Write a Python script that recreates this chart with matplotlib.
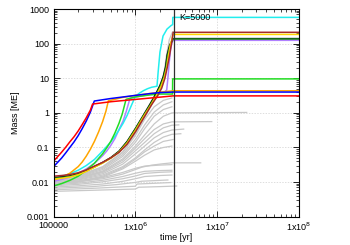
import matplotlib
matplotlib.use("Agg")
import matplotlib.pyplot as plt
import matplotlib.ticker as mticker

plt.rcParams['font.family'] = ['Liberation Sans', 'DejaVu Sans']

# coloured planets: time [yr], mass [ME]
red_t = [1e5, 1.12e5, 1.26e5, 1.41e5, 1.58e5, 1.78e5, 2.0e5, 2.24e5, 2.51e5, 2.82e5, 3.0e5,
         5e5, 1e6, 2e6, 2.9e6, 1e8]
red_m = [0.040, 0.054, 0.074, 0.102, 0.145, 0.204, 0.30, 0.46, 0.72, 1.2, 1.8,
         2.1, 2.45, 2.85, 3.1, 3.1]

blue_t = [1e5, 1.12e5, 1.26e5, 1.41e5, 1.58e5, 1.78e5, 2.0e5, 2.24e5, 2.51e5, 2.82e5, 3.15e5,
          5e5, 1e6, 1.5e6, 2e6, 2.9e6, 1e8]
blue_m = [0.028, 0.037, 0.050, 0.070, 0.100, 0.145, 0.22, 0.35, 0.58, 1.05, 2.2,
          2.6, 3.2, 3.6, 3.85, 4.0, 4.0]

orange_t = [1e5, 1.26e5, 1.58e5, 2.0e5, 2.24e5, 2.51e5, 2.82e5, 3.16e5, 3.55e5, 3.98e5, 4.37e5, 4.68e5,
            7e5, 1e6, 2e6, 2.9e6, 1e8]
orange_m = [0.0115, 0.0138, 0.018, 0.028, 0.038, 0.056, 0.089, 0.15, 0.28, 0.56, 1.12, 2.23,
            2.8, 3.2, 3.95, 4.35, 4.35]

green_t = [1e5, 1.26e5, 1.58e5, 2.0e5, 2.51e5, 3.16e5, 3.98e5, 4.47e5, 5.01e5, 5.62e5, 6.31e5, 6.92e5, 7.7e5,
           1e6, 1.5e6, 2.0e6, 2.85e6, 2.86e6, 1e8]
green_m = [0.0077, 0.0091, 0.0112, 0.0148, 0.022, 0.035, 0.066, 0.098, 0.15, 0.26, 0.50, 0.93, 2.46,
           2.9, 3.3, 3.5, 3.5, 9.6, 9.6]

violet_t = [1e5, 1.26e5, 1.58e5, 2.0e5, 2.51e5, 3.16e5, 3.98e5, 4.47e5, 5.01e5, 5.62e5, 6.31e5, 7.08e5,
            7.76e5, 8.6e5, 1.2e6, 1.6e6, 2.0e6, 2.3e6, 2.42e6, 2.5e6, 2.6e6, 2.7e6, 2.8e6, 2.9e6, 1e8]
violet_m = [0.0105, 0.012, 0.0141, 0.0178, 0.024, 0.035, 0.058, 0.079, 0.115, 0.18, 0.33, 0.58,
            1.12, 2.63, 3.1, 3.5, 3.9, 4.1, 4.6, 10, 30, 70, 105, 125, 125]

cyan_t = [1e5, 1.26e5, 1.58e5, 2.0e5, 2.51e5, 3.16e5, 3.98e5, 5.01e5, 5.62e5, 6.31e5, 7.08e5, 7.94e5,
          8.91e5, 1.0e6, 1.12e6, 1.26e6, 1.41e6, 1.58e6, 1.84e6, 1.9e6, 2.0e6, 2.18e6, 2.44e6, 2.73e6,
          2.86e6, 2.87e6, 1e8]
cyan_m = [0.0125, 0.0145, 0.0174, 0.022, 0.03, 0.045, 0.079, 0.145, 0.21, 0.32, 0.50, 0.85,
          1.6, 3.0, 3.7, 4.4, 5.0, 5.5, 5.9, 15, 57, 166, 264, 333,
          356, 575, 575]

black_t = [1e5, 1.26e5, 1.58e5, 2.0e5, 2.51e5, 3.16e5, 3.98e5, 5.01e5, 6.31e5, 7.94e5, 1.0e6, 1.26e6,
           1.51e6, 1.74e6, 2.0e6, 2.19e6, 2.34e6, 2.45e6, 2.63e6, 2.9e6, 1e8]
black_m = [0.0135, 0.0141, 0.0151, 0.0174, 0.0214, 0.028, 0.037, 0.051, 0.078, 0.15, 0.35, 0.87,
           1.78, 3.2, 6.2, 11, 21, 47, 91, 140, 140]

dkgreen_t = [1e5, 1.26e5, 1.58e5, 2.0e5, 2.51e5, 3.16e5, 3.98e5, 5.01e5, 6.31e5, 7.94e5, 1.0e6, 1.26e6,
             1.52e6, 1.76e6, 2.02e6, 2.21e6, 2.36e6, 2.47e6, 2.65e6, 2.9e6, 1e8]
dkgreen_m = [0.013, 0.0136, 0.0146, 0.0169, 0.0208, 0.0272, 0.036, 0.05, 0.076, 0.145, 0.34, 0.84,
             1.72, 3.1, 6.0, 10.5, 20, 45, 88, 137, 137]

yellow_t = [1e5, 1.26e5, 1.58e5, 2.0e5, 2.51e5, 3.16e5, 3.98e5, 5.01e5, 6.31e5, 7.94e5, 1.0e6, 1.26e6,
            1.55e6, 1.8e6, 2.06e6, 2.26e6, 2.42e6, 2.54e6, 2.7e6, 2.9e6, 1e8]
yellow_m = [0.0122, 0.0129, 0.014, 0.0163, 0.0203, 0.0268, 0.0355, 0.049, 0.073, 0.135, 0.31, 0.78,
            1.7, 3.1, 5.8, 10.5, 21, 45, 100, 185, 185]

brown_t = [1e5, 1.26e5, 1.58e5, 2.0e5, 2.51e5, 3.16e5, 3.98e5, 5.01e5, 6.31e5, 7.94e5, 1.0e6, 1.26e6,
           1.6e6, 1.87e6, 2.1e6, 2.3e6, 2.45e6, 2.6e6, 2.75e6, 2.86e6, 2.9e6, 1e8]
brown_m = [0.0148, 0.0155, 0.0165, 0.0186, 0.0225, 0.029, 0.037, 0.05, 0.072, 0.125, 0.28, 0.7,
           1.8, 3.1, 5.2, 10, 20, 41, 91, 166, 213, 213]

# grey planets (time list, mass list)
grey_runs = [
    ([1e5, 3e5, 1e6, 1.1e6, 2e6, 3.2e6], [0.0054, 0.0058, 0.0063, 0.0071, 0.0074, 0.0077]),
    ([1e5, 3e5, 1e6, 1.05e6, 2e6, 2.7e6], [0.006, 0.0066, 0.0076, 0.0088, 0.0094, 0.0097]),
    ([1e5, 3e5, 6e5, 1e6, 1.2e6, 2.5e6], [0.0066, 0.0074, 0.0085, 0.0098, 0.0106, 0.0115]),
    ([1e5, 2e5, 4e5, 7e5, 1e6, 1.3e6, 2e6, 2.8e6], [0.0072, 0.0078, 0.0088, 0.0105, 0.0125, 0.0145, 0.0155, 0.016]),
    ([1e5, 2e5, 4e5, 7e5, 1e6, 1.3e6, 2e6, 2.8e6], [0.0078, 0.0086, 0.0102, 0.0125, 0.015, 0.0178, 0.0192, 0.0198]),
    ([1e5, 2e5, 4e5, 7e5, 1e6, 1.3e6, 2e6, 2.8e6], [0.0083, 0.0093, 0.0113, 0.0145, 0.018, 0.0205, 0.0215, 0.022]),
    ([1e5, 2e5, 4e5, 7e5, 1e6, 1.2e6, 1.6e6, 2.2e6, 2.8e6, 6.3e6],
     [0.009, 0.0102, 0.0125, 0.017, 0.023, 0.027, 0.031, 0.034, 0.036, 0.036]),
    ([1e5, 2e5, 4e5, 7e5, 1e6, 1.3e6, 2e6, 2.8e6], [0.0095, 0.0108, 0.0135, 0.019, 0.025, 0.029, 0.031, 0.032]),
    ([1e5, 2e5, 4e5, 7e5, 1e6, 1.3e6, 1.7e6, 2.2e6, 2.8e6], [0.0088, 0.01, 0.014, 0.024, 0.04, 0.06, 0.085, 0.1, 0.11]),
    ([1e5, 2e5, 4e5, 7e5, 1e6, 1.3e6, 1.7e6, 2.2e6, 2.9e6], [0.0092, 0.0106, 0.0148, 0.026, 0.046, 0.075, 0.11, 0.15, 0.17]),
    ([1e5, 2e5, 4e5, 7e5, 1e6, 1.3e6, 1.7e6, 2.2e6, 2.8e6, 3.6e6],
     [0.0098, 0.0115, 0.016, 0.028, 0.05, 0.085, 0.14, 0.2, 0.24, 0.25]),
    ([1e5, 2e5, 4e5, 7e5, 1e6, 1.3e6, 1.7e6, 2.2e6, 2.8e6, 3.9e6],
     [0.0102, 0.012, 0.0175, 0.033, 0.065, 0.11, 0.19, 0.27, 0.32, 0.34]),
    ([1e5, 2e5, 4e5, 7e5, 1e6, 1.3e6, 1.7e6, 2.2e6, 2.8e6, 3.4e6],
     [0.0106, 0.0126, 0.019, 0.038, 0.08, 0.14, 0.25, 0.37, 0.44, 0.45]),
    ([1e5, 2e5, 4e5, 7e5, 1e6, 1.3e6, 1.7e6, 2.2e6, 2.8e6, 8.6e6],
     [0.011, 0.013, 0.02, 0.043, 0.095, 0.18, 0.33, 0.48, 0.55, 0.56]),
    ([1e5, 2e5, 4e5, 7e5, 1e6, 1.3e6, 1.7e6, 2.2e6, 2.8e6, 2.3e7],
     [0.0113, 0.0135, 0.021, 0.047, 0.11, 0.23, 0.48, 0.8, 1.0, 1.03]),
    ([1e5, 2e5, 4e5, 7e5, 1e6, 1.3e6, 1.7e6, 2.2e6, 2.8e6], [0.0117, 0.014, 0.023, 0.055, 0.14, 0.35, 0.8, 1.25, 1.5]),
    ([1e5, 2e5, 4e5, 7e5, 1e6, 1.3e6, 1.7e6, 2.2e6, 2.8e6], [0.012, 0.0145, 0.025, 0.062, 0.17, 0.45, 1.05, 1.7, 2.1]),
    ([1e5, 2e5, 4e5, 7e5, 1e6, 1.3e6, 1.7e6, 2.2e6, 2.8e6], [0.0122, 0.015, 0.027, 0.07, 0.22, 0.65, 1.5, 2.3, 2.7]),
    ([1e5, 2e5, 4e5, 7e5, 1e6, 1.3e6, 1.6e6, 1.9e6, 2.1e6, 2.25e6, 2.4e6, 2.6e6, 2.85e6],
     [0.0125, 0.0155, 0.028, 0.075, 0.25, 0.75, 1.8, 3.8, 7, 15, 45, 130, 220]),
]

fig = plt.figure(figsize=(3.5, 2.45), dpi=100)
ax = fig.add_axes([0.153, 0.1155, 0.701, 0.8475])

for gt, gm in grey_runs:
    ax.plot(gt, gm, color='#c8c8c8', lw=0.9)

ax.plot(violet_t, violet_m, color='#b080ff', lw=1.1)
ax.plot(cyan_t, cyan_m, color='#22eeee', lw=1.1)
ax.plot(green_t, green_m, color='#22dd22', lw=1.1)
ax.plot(orange_t, orange_m, color='#ffa500', lw=1.1)
ax.plot(black_t, black_m, color='black', lw=1.1)
ax.plot(dkgreen_t, dkgreen_m, color='#1a8a1a', lw=1.0)
ax.plot(yellow_t, yellow_m, color='#ffd500', lw=1.1)
ax.plot(brown_t, brown_m, color='#a52a2a', lw=1.1)
ax.plot(blue_t, blue_m, color='#0000ff', lw=1.1)
ax.plot(red_t, red_m, color='#ff0000', lw=1.1)

ax.axvline(3e6, color='#303030', lw=0.9)
ax.text(3.4e6, 560, 'K=5000', fontsize=6.5, va='center', ha='left')

ax.set_xscale('log')
ax.set_yscale('log')
ax.set_xlim(1e5, 1e8)
ax.set_ylim(1e-3, 1e3)

ax.set_xticks([1e5, 1e6, 1e7, 1e8])
ax.set_xticklabels(['100000', r'1x10$^{6}$', r'1x10$^{7}$', r'1x10$^{8}$'])
ax.set_yticks([1e-3, 1e-2, 1e-1, 1, 10, 100, 1000])
ax.set_yticklabels(['0.001', '0.01', '0.1', '1', '10', '100', '1000'])
ax.xaxis.set_minor_locator(mticker.LogLocator(base=10, subs=range(2, 10), numticks=20))
ax.yaxis.set_minor_locator(mticker.LogLocator(base=10, subs=range(2, 10), numticks=20))
ax.xaxis.set_minor_formatter(mticker.NullFormatter())
ax.yaxis.set_minor_formatter(mticker.NullFormatter())
ax.tick_params(which='both', direction='in', top=True, right=True, labelsize=6.5)
ax.tick_params(axis='y', pad=3)
ax.tick_params(axis='x', pad=3)
ax.tick_params(which='major', length=4, width=0.6)
ax.tick_params(which='minor', length=2.2, width=0.5)

ax.grid(False, which='minor')
ax.grid(True, which='major', color='#d0d0d0', ls=(0, (2, 2)), lw=0.5)
for s in ax.spines.values():
    s.set_linewidth(0.8)

ax.set_xlabel('time [yr]', fontsize=6.5, labelpad=0)
ax.set_ylabel('Mass [ME]', fontsize=6.5, labelpad=5)

fig.savefig('out.png', dpi=100)
